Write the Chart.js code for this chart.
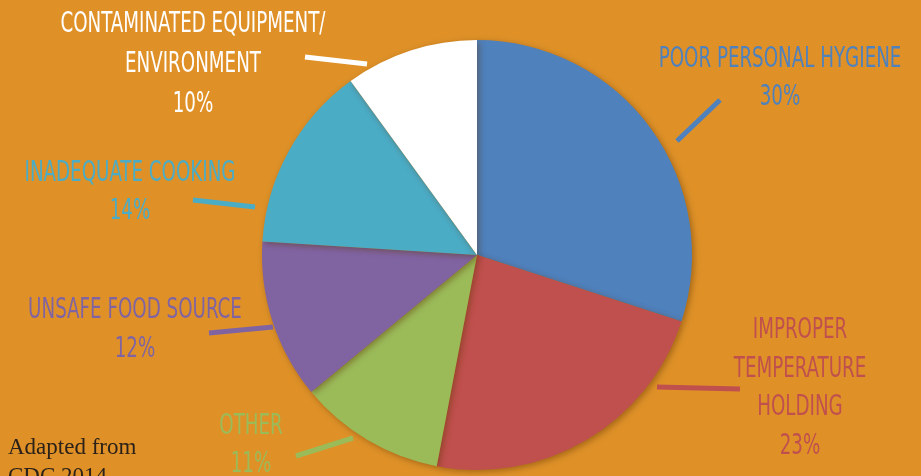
<!DOCTYPE html>
<html>
<head>
<meta charset="utf-8">
<script src="https://cdn.jsdelivr.net/npm/chart.js@4/dist/chart.umd.min.js"></script>
<style>
  html, body { margin: 0; padding: 0; background: #df9128; }
  #wrap { width: 921px; height: 476px; position: relative; }
</style>
</head>
<body>
<div id="wrap"><canvas id="pieChart"></canvas></div>
<script>
// data (clockwise from 12 o'clock)
const categories = [
  ["POOR PERSONAL HYGIENE"],
  ["IMPROPER", "TEMPERATURE", "HOLDING"],
  ["OTHER"],
  ["UNSAFE FOOD SOURCE"],
  ["INADEQUATE COOKING"],
  ["CONTAMINATED EQUIPMENT/", "ENVIRONMENT"]
];
const percents = [30, 23, 11, 12, 14, 10];
const sliceColors = ["#4f81bd", "#c0504d", "#9bbb59", "#8064a2", "#4bacc6", "#ffffff"];
const sourceNote = ["Adapted from", "CDC 2014"];

// where each callout sits (label centre x, first line y, line step, leader line)
const callouts = [
  { x: 780, y: 57, step: 38, line: [677, 141, 720, 100] },
  { x: 800, y: 328, step: 38.5, line: [657, 387, 740, 389] },
  { x: 251, y: 424, step: 38, line: [296, 456, 353, 438] },
  { x: 135, y: 308, step: 39, line: [209, 333, 273, 327] },
  { x: 130, y: 171, step: 38, line: [193, 200, 255, 207] },
  { x: 193, y: 22, step: 40, line: [305, 57, 367, 64] }
];

const labelFont = "29px 'Liberation Sans Narrow', 'DejaVu Sans Condensed', sans-serif";
const squeeze = 0.7;

const pieShadow = {
  id: "pieShadow",
  beforeDatasetDraw(chart) {
    const ctx = chart.ctx;
    ctx.save();
    ctx.shadowColor = "rgba(90, 50, 0, 0.45)";
    ctx.shadowBlur = 6;
    ctx.shadowOffsetX = 2;
    ctx.shadowOffsetY = 2;
  },
  afterDatasetDraw(chart) {
    chart.ctx.restore();
  }
};

const callout = {
  id: "callout",
  afterDraw(chart) {
    const ctx = chart.ctx;
    ctx.save();
    categories.forEach((lines, i) => {
      const c = callouts[i];
      const color = sliceColors[i];
      // leader line
      ctx.strokeStyle = color;
      ctx.lineWidth = 5;
      ctx.lineCap = "butt";
      ctx.beginPath();
      ctx.moveTo(c.line[0], c.line[1]);
      ctx.lineTo(c.line[2], c.line[3]);
      ctx.stroke();

      // text
      ctx.fillStyle = color;
      ctx.font = labelFont;
      ctx.textAlign = "center";
      ctx.textBaseline = "alphabetic";
      const rows = lines.concat([percents[i] + "%"]);
      rows.forEach((t, j) => {
        const w = ctx.measureText(t).width * squeeze;
        ctx.fillText(t, c.x, c.y + j * c.step + 10, w);
      });
    });

    // source note
    ctx.fillStyle = "#2b2118";
    ctx.font = "23px 'Liberation Serif', 'DejaVu Serif', serif";
    ctx.textAlign = "left";
    sourceNote.forEach((t, j) => {
      ctx.fillText(t, 8, 454 + j * 29);
    });
    ctx.restore();
  }
};

const ctx = document.getElementById("pieChart").getContext("2d");
new Chart(ctx, {
  type: "pie",
  data: {
    labels: categories.map(l => l.join(" ")),
    datasets: [{
      data: percents,
      backgroundColor: sliceColors,
      borderWidth: 0,
      hoverOffset: 0
    }]
  },
  options: {
    responsive: true,
    maintainAspectRatio: false,
    animation: false,
    layout: { padding: { left: 262, right: 229, top: 40, bottom: 6 } },
    plugins: {
      legend: { display: false },
      tooltip: { enabled: false }
    }
  },
  plugins: [pieShadow, callout]
});
</script>
</body>
</html>
